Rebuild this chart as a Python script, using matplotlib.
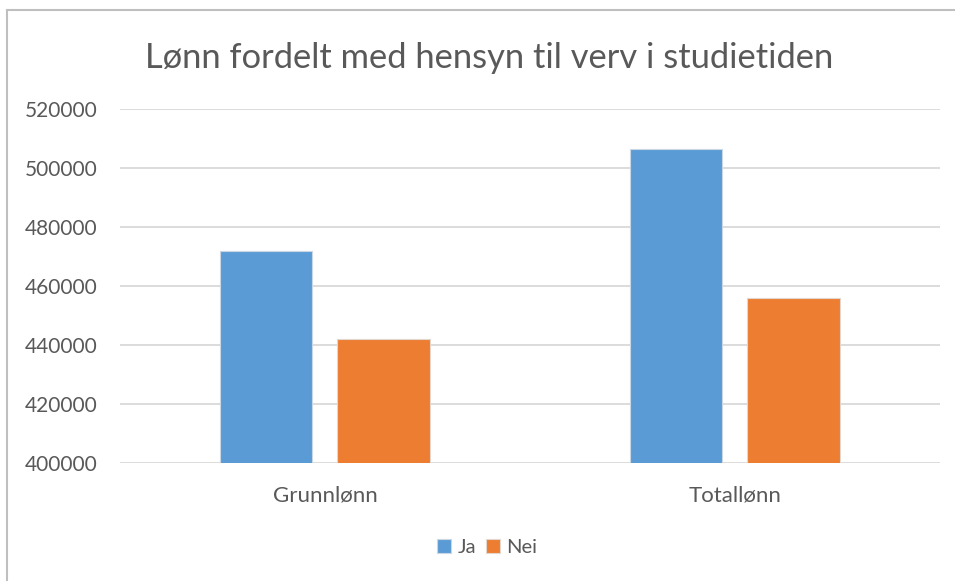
"""Lønn fordelt med hensyn til verv i studietiden"""
import numpy as np
import matplotlib
matplotlib.use("Agg")
import matplotlib.pyplot as plt
from matplotlib.lines import Line2D

categories = ["Grunnlønn", "Totallønn"]
ja = [472000, 506700]
nei = [442100, 456000]
series_names = ["Ja", "Nei"]
yticks = [400000, 420000, 440000, 460000, 480000, 500000, 520000]

BLUE = "#5B9BD5"
ORANGE = "#ED7D31"
TEXT = "#595959"
GRID = "#D9D9D9"

plt.rcParams["font.family"] = ["Lato", "DejaVu Sans"]

fig = plt.figure(figsize=(9.55, 5.81), dpi=100)
ax = fig.add_axes([0.1257, 0.2026, 0.984 - 0.1257, 0.8119 - 0.2026])

x = np.arange(len(categories))
width = 0.225
offset = 0.143
ax.bar(x - offset, ja, width, color=BLUE, edgecolor="#C9D6E3", linewidth=0.8,
       label=series_names[0], zorder=3)
ax.bar(x + offset, nei, width, color=ORANGE, edgecolor="#E3D6CC", linewidth=0.8,
       label=series_names[1], zorder=3)

ax.set_xlim(-0.5, 1.5)
ax.set_ylim(400000, 520000)
ax.set_yticks(yticks)
ax.set_yticklabels([str(v) for v in yticks])
ax.set_xticks(x)
ax.set_xticklabels(categories)
ax.tick_params(axis="both", length=0, colors=TEXT, labelsize=15)
ax.tick_params(axis="x", pad=16, labelsize=16)
ax.tick_params(axis="y", pad=16)
ax.grid(axis="y", color=GRID, linewidth=1.3, zorder=0)
for s in ax.spines.values():
    s.set_visible(False)

fig.suptitle("Lønn fordelt med hensyn til verv i studietiden", x=0.512, y=0.928,
             fontsize=24.8, color=TEXT)

leg = fig.legend(loc="center", bbox_to_anchor=(0.51, 0.058), ncol=2, frameon=False,
                 fontsize=14.5, handlelength=0.7, handleheight=0.7, handletextpad=0.3,
                 columnspacing=0.5, labelcolor=TEXT)

# chart frame (only top and left edges visible)
fig.add_artist(Line2D([0.0073, 0.0073], [0, 1 - 10 / 581], transform=fig.transFigure,
                      color="#BFBFBF", linewidth=1.5))
fig.add_artist(Line2D([0.0073, 1], [1 - 10 / 581, 1 - 10 / 581], transform=fig.transFigure,
                      color="#BFBFBF", linewidth=1.5))

fig.savefig("out.png", dpi=100, facecolor="white")
